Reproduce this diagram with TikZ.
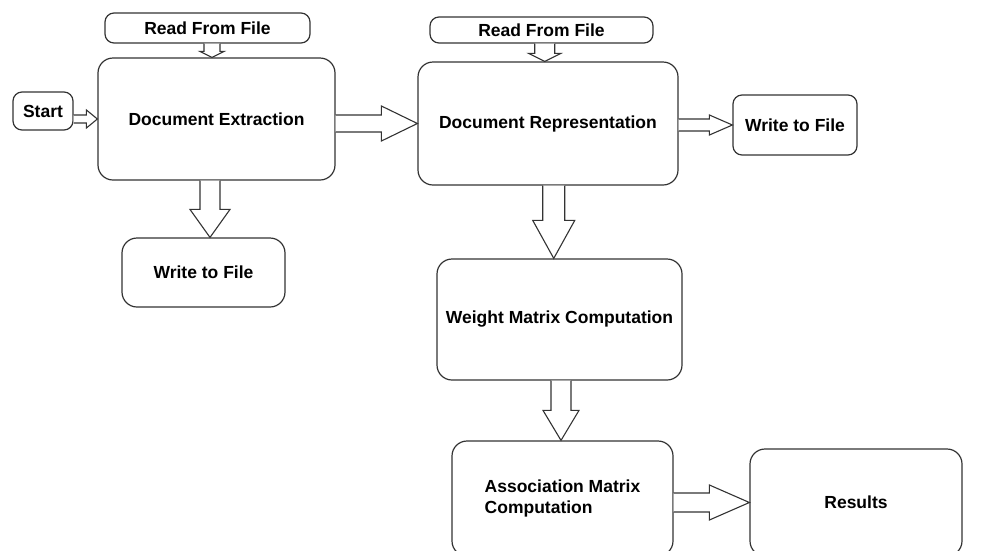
\documentclass[tikz,border=0pt]{standalone}
\usepackage{fontspec}
\setmainfont{Liberation Sans}
\usetikzlibrary{calc}
%freccia orizzontale: da, a, mezzo fusto, mezza punta, lunghezza punta
\newcommand{\harrow}[5]{\draw[blockarrow] let \p1=(#1), \p2=(#2) in
    (\x1,\y2+#3)--(\x2-#5,\y2+#3)--(\x2-#5,\y2+#4)--(\x2,\y2)--(\x2-#5,\y2-#4)--(\x2-#5,\y2-#3)--(\x1,\y2-#3);}
%freccia verticale (verso il basso)
\newcommand{\varrow}[5]{\draw[blockarrow] let \p1=(#1), \p2=(#2), \n1={(\x1+\x2)/2} in
    (\n1-#3,\y1)--(\n1-#3,\y2+#5)--(\n1-#4,\y2+#5)--(\n1,\y2)--(\n1+#4,\y2+#5)--(\n1+#3,\y2+#5)--(\n1+#3,\y1);}
\begin{document}
\begin{tikzpicture}[x=1pt, y=-1pt,
    box/.style={draw=black!80, line width=1.2pt, rounded corners=15pt, align=center,
        font=\fontsize{17.5}{21}\selectfont\bfseries},
    smallbox/.style={box, rounded corners=9pt},
    blockarrow/.style={draw=black!80, line width=1.1pt, fill=white, line join=miter}]
    \clip (0,0) rectangle (997,550);
    %disegno start
    \node[smallbox, minimum width=60, minimum height=38] (start) at (43,111) {Start};
    %disegno lettura e estrazione
    \node[smallbox, minimum width=205, minimum height=30] (read1) at (207.5,28) {Read From File};
    \node[box, minimum width=237, minimum height=122] (docext) at (216.5,119) {Document Extraction};
    \node[box, minimum width=163, minimum height=69] (write1) at (203.5,272.5) {Write to File};
    %%%%%%%%%%%%%%%%%%%%%%%%%%%%%%%%%%%%%%%%%%%%%%%%%%%%%%%%%%%%%%%%%%%%%%%%%%
    %disegno rappresentazione
    \node[smallbox, minimum width=223, minimum height=26] (read2) at (541.5,30) {Read From File};
    \node[box, minimum width=260, minimum height=123] (docrep) at (548,123.5) {Document Representation};
    \node[smallbox, minimum width=124, minimum height=60] (write2) at (795,125) {Write to File};
    %disegno matrici
    \node[box, minimum width=245, minimum height=121] (weight) at (559.5,319.5) {Weight Matrix Computation};
    \node[box, align=left, minimum width=221, minimum height=115] (assoc) at (562.5,498.5) {Association Matrix\\Computation};
    \node[box, minimum width=212, minimum height=107] (results) at (856,502.5) {Results};
    %%%%%%%%%%%%%%%%%%%%%%%%%%%%%%%%%%%%%%%%%%%%%%%%%%%%%%%%%%%%%%%%%%%%%%%%%%
    %disegno frecce
    \harrow{start.east}{docext.west}{4pt}{9pt}{11pt}
    \varrow{read1.south}{docext.north}{8pt}{12pt}{6pt}
    \harrow{docext.east}{docrep.west}{8.5pt}{17.5pt}{36pt}
    \varrow{docext.south}{write1.north}{10pt}{20pt}{28pt}
    \varrow{read2.south}{docrep.north}{10pt}{16pt}{8pt}
    \harrow{docrep.east}{write2.west}{6pt}{10pt}{23pt}
    \varrow{docrep.south}{weight.north}{11pt}{21pt}{38pt}
    \varrow{weight.south}{assoc.north}{10pt}{18pt}{30pt}
    \harrow{assoc.east}{results.west}{9.5pt}{17.5pt}{40pt}
\end{tikzpicture}
\end{document}
